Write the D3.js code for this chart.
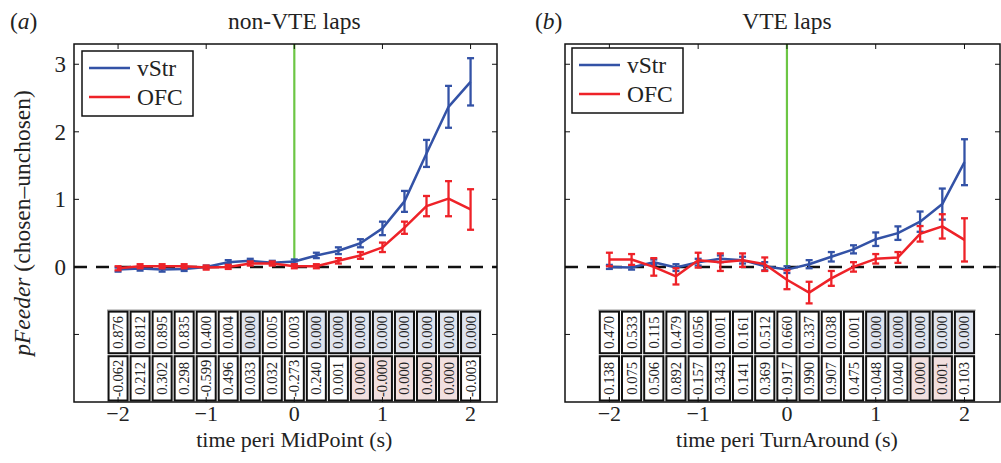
<!DOCTYPE html>
<html>
<head>
<meta charset="utf-8">
<script src="https://cdn.jsdelivr.net/npm/d3@7"></script>
<style>
  body { margin: 0; background: #fff; }
  svg { display: block; }
  text { font-family: "Liberation Serif", "DejaVu Serif", serif; fill: #222; }
</style>
</head>
<body>
<svg id="chart" width="1001" height="463"></svg>
<script>
// time bins (s)
var times = [-2, -1.75, -1.5, -1.25, -1, -0.75, -0.5, -0.25, 0, 0.25, 0.5, 0.75, 1, 1.25, 1.5, 1.75, 2];

// panel a : non-VTE laps
var aStrMean = [-0.04, -0.025, -0.04, -0.03, 0.0, 0.07, 0.09, 0.06, 0.08, 0.17, 0.24, 0.35, 0.57, 0.97, 1.68, 2.37, 2.74];
var aStrErr  = [0.03, 0.03, 0.03, 0.03, 0.02, 0.03, 0.03, 0.03, 0.03, 0.04, 0.05, 0.06, 0.1, 0.155, 0.2, 0.31, 0.35];
var aOfcMean = [-0.02, 0.01, 0.01, 0.01, -0.01, 0.0, 0.05, 0.05, 0.01, 0.01, 0.09, 0.17, 0.29, 0.58, 0.9, 1.01, 0.85];
var aOfcErr  = [0.03, 0.03, 0.03, 0.03, 0.03, 0.03, 0.03, 0.03, 0.03, 0.03, 0.04, 0.05, 0.07, 0.09, 0.15, 0.26, 0.3];
var aTop = ["0.876","0.812","0.895","0.835","0.400","0.004","0.000","0.005","0.003","0.000","0.000","0.000","0.000","0.000","0.000","0.000","0.000"];
var aBot = ["-0.062","0.212","0.302","0.298","-0.599","0.496","0.033","0.032","-0.273","0.240","0.001","0.000","-0.000","0.000","0.000","0.000","-0.003"];
var aTopSig = [0,0,0,0,0,0,1,0,0,1,1,1,1,1,1,1,1];
var aBotSig = [0,0,0,0,0,0,0,0,0,0,0,1,1,1,1,1,0];

// panel b : VTE laps
var bStrMean = [0.0, -0.01, 0.07, -0.01, 0.07, 0.12, 0.1, 0.01, -0.04, 0.04, 0.15, 0.26, 0.41, 0.5, 0.67, 0.93, 1.55];
var bStrErr  = [0.03, 0.03, 0.04, 0.05, 0.05, 0.05, 0.05, 0.06, 0.05, 0.06, 0.07, 0.06, 0.1, 0.1, 0.15, 0.23, 0.34];
var bOfcMean = [0.11, 0.11, 0.0, -0.14, 0.1, 0.07, 0.1, 0.04, -0.19, -0.38, -0.17, 0.0, 0.12, 0.14, 0.49, 0.6, 0.4];
var bOfcErr  = [0.1, 0.08, 0.13, 0.12, 0.11, 0.13, 0.1, 0.1, 0.14, 0.16, 0.11, 0.07, 0.07, 0.08, 0.115, 0.18, 0.32];
var bTop = ["0.470","0.533","0.115","0.479","0.056","0.001","0.161","0.512","0.660","0.337","0.038","0.001","0.000","0.000","0.000","0.000","0.000"];
var bBot = ["0.138","0.075","0.506","0.892","0.157","0.343","0.141","0.369","0.917","0.990","0.907","0.475","0.048","0.040","0.000","0.001","0.103"];
var bTopSig = [0,0,0,0,0,0,0,0,0,0,0,0,1,1,1,1,1];
var bBotSig = [0,0,0,0,0,0,0,0,0,0,0,0,0,0,1,1,0];

var xTicks = [-2, -1, 0, 1, 2];
var yTicks = [-1, 0, 1, 2, 3];
var yTickLabels = ["", "0", "1", "2", "3"];

var blue = "#3352a6", red = "#ee2228", green = "#6cc644";
var svg = d3.select("#chart");

// shared y scale
var y = d3.scaleLinear().domain([-2, 3.3]).range([402, 44]);

function drawPanel(opt) {
  var x = d3.scaleLinear().domain(opt.xdom).range(opt.xrange);
  var g = svg.append("g");
  var L = opt.xrange[0], R = opt.xrange[1], T = y.range()[1], B = y.range()[0];

  // table of p values (two rows)
  var cw = x(0.125) - x(0);
  var rows = [
    {vals: opt.top, sig: opt.topSig, y0: y(-0.64), y1: y(-1.3), fill: "#dfe4ee"},
    {vals: opt.bot, sig: opt.botSig, y0: y(-1.3), y1: y(-2), fill: "#f1dfdf"}
  ];
  g.append("line").attr("x1", x(times[0]) - cw).attr("x2", x(times[times.length - 1]) + cw)
    .attr("y1", y(-0.64)).attr("y2", y(-0.64)).attr("stroke", "#777").attr("stroke-width", 1);
  rows.forEach(function (r) {
    times.forEach(function (t, i) {
      var cx = x(t);
      g.append("rect").attr("x", cx - cw + 1.5).attr("y", r.y0 + 1.5)
        .attr("width", 2 * cw - 3).attr("height", r.y1 - r.y0 - 3)
        .attr("fill", r.sig[i] ? r.fill : "#fff")
        .attr("stroke", "#111").attr("stroke-width", 2);
      var cy = (r.y0 + r.y1) / 2;
      g.append("text").attr("transform", "translate(" + (cx + 5) + "," + cy + ") rotate(-90)")
        .attr("text-anchor", "middle").style("font-size", "14.5px").text(r.vals[i]);
    });
  });

  // zero line + event line
  g.append("line").attr("x1", L).attr("x2", R).attr("y1", y(0)).attr("y2", y(0))
    .attr("stroke", "#111").attr("stroke-width", 2.5).attr("stroke-dasharray", "13,9");
  g.append("line").attr("x1", x(0)).attr("x2", x(0)).attr("y1", T).attr("y2", y(0))
    .attr("stroke", green).attr("stroke-width", 2.2);

  // series
  var line = d3.line().x(function (d) { return x(d.t); }).y(function (d) { return y(d.m); });
  opt.series.forEach(function (s) {
    var pts = times.map(function (t, i) { return {t: t, m: s.mean[i], e: s.err[i]}; });
    g.append("path").datum(pts).attr("d", line).attr("fill", "none")
      .attr("stroke", s.color).attr("stroke-width", 2.5).attr("stroke-linejoin", "round");
    var eb = g.append("g").attr("stroke", s.color).attr("stroke-width", 2.3);
    pts.forEach(function (d) {
      var px = x(d.t), y1 = y(d.m + d.e), y2 = y(d.m - d.e);
      eb.append("line").attr("x1", px).attr("x2", px).attr("y1", y1).attr("y2", y2);
      eb.append("line").attr("x1", px - 3.5).attr("x2", px + 3.5).attr("y1", y1).attr("y2", y1);
      eb.append("line").attr("x1", px - 3.5).attr("x2", px + 3.5).attr("y1", y2).attr("y2", y2);
    });
  });

  // axes box and inward ticks
  g.append("rect").attr("x", L).attr("y", T).attr("width", R - L).attr("height", B - T)
    .attr("fill", "none").attr("stroke", "#111").attr("stroke-width", 1.5);
  xTicks.forEach(function (t) {
    g.append("line").attr("x1", x(t)).attr("x2", x(t)).attr("y1", T).attr("y2", T + 5).attr("stroke", "#111");
    g.append("line").attr("x1", x(t)).attr("x2", x(t)).attr("y1", B).attr("y2", B - 5).attr("stroke", "#111");
    g.append("text").attr("x", x(t)).attr("y", 421).attr("text-anchor", "middle")
      .style("font-size", "22px").text(t < 0 ? "\u2212" + (-t) : t);
  });
  yTicks.forEach(function (v, i) {
    g.append("line").attr("x1", L).attr("x2", L + 5).attr("y1", y(v)).attr("y2", y(v)).attr("stroke", "#111");
    g.append("line").attr("x1", R).attr("x2", R - 5).attr("y1", y(v)).attr("y2", y(v)).attr("stroke", "#111");
    if (opt.yLabels) {
      g.append("text").attr("x", L - 8).attr("y", y(v) + 8).attr("text-anchor", "end")
        .style("font-size", "23px").text(yTickLabels[i]);
    }
  });

  // titles
  g.append("text").attr("x", x(0)).attr("y", 29).attr("text-anchor", "middle")
    .style("font-size", "23.5px").text(opt.title);
  var pl = g.append("text").attr("x", opt.tagX).attr("y", 29).style("font-size", "23.5px");
  pl.append("tspan").text("(");
  pl.append("tspan").style("font-style", "italic").text(opt.tag);
  pl.append("tspan").text(")");
  g.append("text").attr("x", x(0)).attr("y", 447).attr("text-anchor", "middle")
    .style("font-size", "22px").text(opt.xlabel);

  // legend
  var lg = g.append("g").attr("transform", "translate(" + (L + opt.legDx) + "," + opt.legY + ")");
  lg.append("rect").attr("width", 111).attr("height", 65).attr("fill", "#fff")
    .attr("stroke", "#111").attr("stroke-width", 1.5);
  opt.series.forEach(function (s, i) {
    var ly = 17 + i * 29;
    lg.append("line").attr("x1", 7).attr("x2", 48).attr("y1", ly).attr("y2", ly)
      .attr("stroke", s.color).attr("stroke-width", 2.5);
    lg.append("text").attr("x", 55).attr("y", ly + 8).style("font-size", "23.5px").text(s.name);
  });
}

drawPanel({
  xdom: [-2.5, 2.3], xrange: [74, 497], title: "non-VTE laps", tag: "a", tagX: 10,
  xlabel: "time peri MidPoint (s)", yLabels: true, legDx: 8, legY: 51,
  top: aTop, bot: aBot, topSig: aTopSig, botSig: aBotSig,
  series: [
    {name: "vStr", mean: aStrMean, err: aStrErr, color: blue},
    {name: "OFC", mean: aOfcMean, err: aOfcErr, color: red}
  ]
});
drawPanel({
  xdom: [-2.5, 2.4], xrange: [565, 1000], title: "VTE laps", tag: "b", tagX: 535,
  xlabel: "time peri TurnAround (s)", yLabels: false, legDx: 7, legY: 48,
  top: bTop, bot: bBot, topSig: bTopSig, botSig: bBotSig,
  series: [
    {name: "vStr", mean: bStrMean, err: bStrErr, color: blue},
    {name: "OFC", mean: bOfcMean, err: bOfcErr, color: red}
  ]
});

// y axis label
var yl = svg.append("text").attr("transform", "translate(30," + y(0.65) + ") rotate(-90)")
  .attr("text-anchor", "middle").style("font-size", "23.5px");
yl.append("tspan").style("font-style", "italic").text("pFeeder");
yl.append("tspan").text(" (chosen\u2013unchosen)");
</script>
</body>
</html>
